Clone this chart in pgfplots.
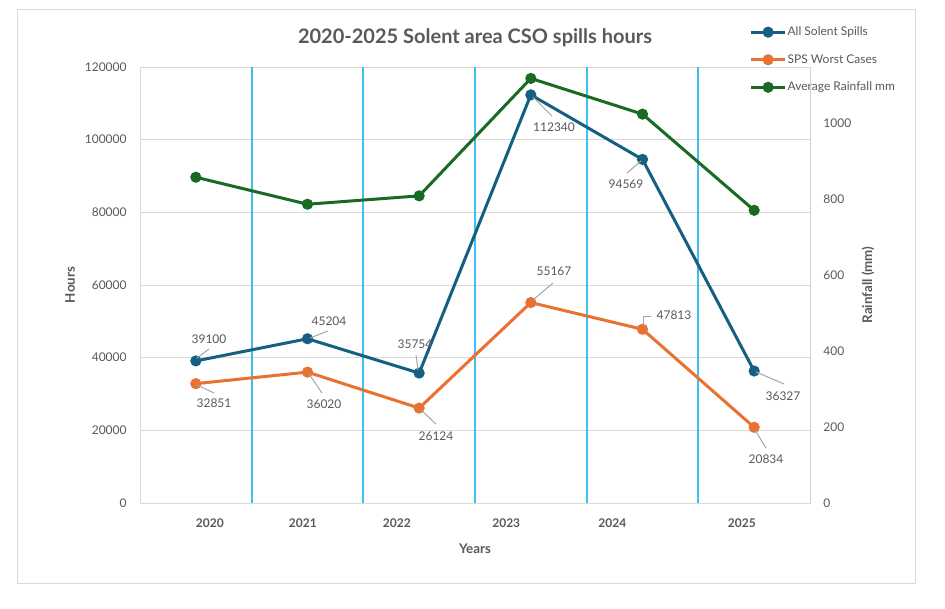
\documentclass[border=0pt]{standalone}
\usepackage{pgfplots}
\pgfplotsset{compat=1.18}
\usepackage{pgfplotstable}
\usepackage{fontspec}
\setmainfont{Lato}
\definecolor{cblue}{RGB}{21,96,130}
\definecolor{corange}{RGB}{233,113,50}
\definecolor{cgreen}{RGB}{25,107,36}
\definecolor{txt}{RGB}{89,89,89}
\definecolor{grd}{RGB}{217,217,217}
\definecolor{sepblue}{RGB}{64,190,240}
\definecolor{lead}{RGB}{166,166,166}
\definecolor{raxis}{RGB}{189,215,238}

\pgfplotstableread{
x spills sps rain
0 39100 32851 857
1 45204 36020 786
2 35754 26124 808
3 112340 55167 1117
4 94569 47813 1023
5 36327 20834 770
}\datatable

\begin{document}
\begin{tikzpicture}
\path[use as bounding box] (0,0) rectangle (708.75pt,456pt);
\begin{scope}[x=0.75pt,y=-0.75pt,yshift=456pt]
 \fill[white] (0,0) rectangle (945,608);
 \draw[grd, line width=0.75pt, fill=white] (17,10) rectangle (915,583);
\end{scope}
\begin{axis}[
 at={(105pt,78.75pt)}, anchor=south west, scale only axis,
 width=502.5pt, height=327pt,
 xmin=-0.5, xmax=5.5, ymin=0, ymax=120000,
 scaled y ticks=false,
 ytick={0,20000,40000,60000,80000,100000,120000},
 yticklabels={0,20000,40000,60000,80000,100000,120000},
 axis line style={grd, line width=0.75pt},
 ymajorgrids, major grid style={grd, line width=0.75pt},
 xtick={0.125,0.958,1.80,2.78,3.73,4.89},
 xticklabels={2020,2021,2022,2023,2024,2025},
 major tick length=0,
 tick label style={font=\fontsize{9}{11}\selectfont, text=txt},
 yticklabel style={xshift=-6.5pt},
 xticklabel style={font=\bfseries\fontsize{9}{11}\selectfont, yshift=-8pt},
 clip=false,
 legend style={at={(rel axis cs:0.91,1.096)}, anchor=north west, draw=none, fill=none,
   font=\fontsize{9}{11}\selectfont, text=txt, row sep=10.6pt, inner sep=0pt,
   nodes={inner sep=1pt}},
 legend cell align=left,
 legend image code/.code={\draw[mark repeat=2,mark phase=2,#1] plot coordinates {(0pt,0pt) (12.5pt,0pt) (25pt,0pt)};},
]
\pgfplotsinvokeforeach{0.5,1.5,2.5,3.5,4.5}{
 \draw[sepblue, line width=1.4pt] (axis cs:#1,0) -- (axis cs:#1,120000);
}
\addplot[cblue, line width=2.25pt, mark=*, mark size=3pt] table[x=x,y=spills]{\datatable};
\addlegendentry{All Solent Spills}
\addplot[corange, line width=2.25pt, mark=*, mark size=3pt] table[x=x,y=sps]{\datatable};
\addlegendentry{SPS Worst Cases}
\addlegendimage{cgreen, line width=2.25pt, mark=*, mark size=3pt}
\addlegendentry{Average Rainfall mm}
\end{axis}
\begin{axis}[
 at={(105pt,78.75pt)}, anchor=south west, scale only axis,
 width=502.5pt, height=327pt,
 xmin=-0.5, xmax=5.5, ymin=0, ymax=1147,
 axis y line*=right, axis x line=none,
 ytick={0,200,400,600,800,1000},
 yticklabels={0,200,400,600,800,1000},
 axis line style={raxis, line width=0.75pt},
 major tick length=0,
 tick label style={font=\fontsize{9}{11}\selectfont, text=txt},
 yticklabel style={xshift=6.5pt},
 clip=false,
]
\addplot[cgreen, line width=2.25pt, mark=*, mark size=3pt] table[x=x,y=rain]{\datatable};
\end{axis}
\begin{scope}[x=0.75pt,y=-0.75pt,yshift=456pt]
 \node[font=\bfseries\fontsize{15}{17}\selectfont, text=txt] at (475,38) {2020-2025 Solent area CSO spills hours};
 \node[font=\bfseries\fontsize{10}{12}\selectfont, text=txt, rotate=90] at (70,285) {Hours};
 \node[font=\bfseries\fontsize{10}{12}\selectfont, text=txt, rotate=90] at (868,285) {Rainfall (mm)};
 \node[font=\bfseries\fontsize{10}{12}\selectfont, text=txt] at (475,549) {Years};
 \begin{scope}[lead, line width=0.75pt]
  \draw (197,358)--(209,349);
  \draw (197,385)--(214,393);
  \draw (310,338)--(328,331);
  \draw (309,374)--(322,393);
  \draw (418,370)--(416,355);
  \draw (421,410)--(436,424);
  \draw (533,97)--(552,116);
  \draw (641,161)--(627,173);
  \draw (533,300)--(553,283);
  \draw (643,326)--(643,316)--(651,316);
  \draw (756,372)--(784,384);
  \draw (755,430)--(766,448);
 \end{scope}
 \begin{scope}[every node/.style={font=\fontsize{9}{11}\selectfont, text=txt}]
  \node at (209,339) {39100};
  \node at (214,403) {32851};
  \node at (329,321) {45204};
  \node at (324,404) {36020};
  \node at (415,344) {35754};
  \node at (436,436) {26124};
  \node at (554,127) {112340};
  \node at (626,184) {94569};
  \node at (554,271) {55167};
  \node at (674,315) {47813};
  \node at (783,396) {36327};
  \node at (766,459) {20834};
 \end{scope}
\end{scope}
\end{tikzpicture}
\end{document}
